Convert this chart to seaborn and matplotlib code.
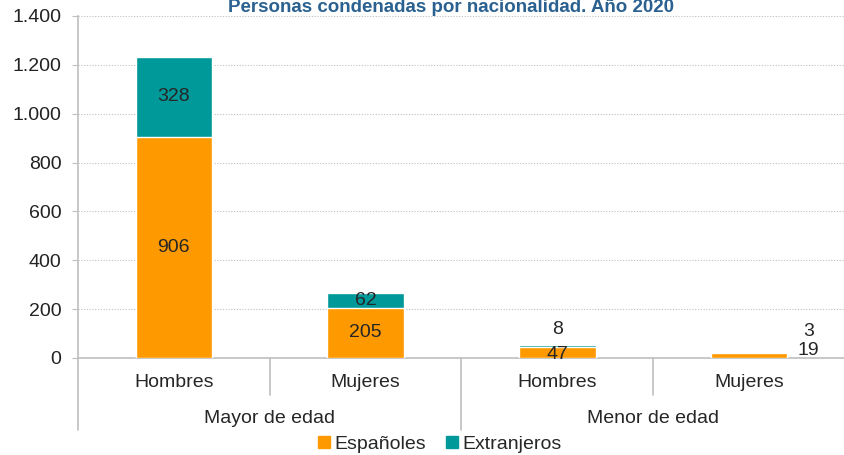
import numpy as np
import pandas as pd
import matplotlib.pyplot as plt
import matplotlib.transforms as mtransforms
from matplotlib.patches import Patch
import seaborn as sns

# data
subgroups = ['Hombres', 'Mujeres', 'Hombres ', 'Mujeres ']
groups = ['Mayor de edad', 'Menor de edad']
espanoles = [906, 205, 47, 19]
extranjeros = [328, 62, 8, 3]
yticks = [0, 200, 400, 600, 800, 1000, 1200, 1400]
ytick_labels = ['0', '200', '400', '600', '800', '1.000', '1.200', '1.400']

ORANGE = '#FF9900'
TEAL = '#009999'
GRID = '#BFBFBF'
FS = 14

sns.set_style('white')
plt.rcParams['font.family'] = ['Liberation Sans', 'DejaVu Sans']

df = pd.DataFrame({'cat': subgroups, 'esp': espanoles, 'ext': extranjeros})
df['total'] = df['esp'] + df['ext']

fig = plt.figure(figsize=(8.45, 4.55), dpi=100)
ax = fig.add_axes([78 / 845, 1 - 358 / 455, 1 - 78 / 845, 342 / 455])

sns.barplot(data=df, x='cat', y='total', color=TEAL, width=0.4,
            saturation=1, ax=ax, zorder=3)
sns.barplot(data=df, x='cat', y='esp', color=ORANGE, width=0.4,
            saturation=1, ax=ax, zorder=3)

ax.set_xlim(-0.5, 3.5)
ax.set_ylim(0, 1400)
ax.set_yticks(yticks)
ax.set_yticklabels(ytick_labels, fontsize=14, color='#222222')
ax.set_xticks([])
ax.set_xlabel('')
ax.set_ylabel('')
ax.yaxis.grid(True, linestyle=(0, (1, 1.5)), color=GRID, linewidth=0.8, zorder=0)
ax.set_axisbelow(True)
ax.tick_params(axis='y', length=4, color=GRID, pad=8, left=True)
for s in ['top', 'right']:
    ax.spines[s].set_visible(False)
for s in ['left', 'bottom']:
    ax.spines[s].set_color(GRID)
    ax.spines[s].set_linewidth(1.2)

# value labels
for i, row in df.iterrows():
    if row['total'] > 150:
        ax.text(i, row['esp'] / 2, f"{row['esp']}", ha='center', va='center', fontsize=14)
        ax.text(i, row['esp'] + row['ext'] / 2, f"{row['ext']}", ha='center', va='center', fontsize=14)
    elif i == 2:
        ax.text(i, row['esp'] / 2 - 8, f"{row['esp']}", ha='center', va='center', fontsize=14)
        ax.text(i, row['total'] + 60, f"{row['ext']}", ha='center', va='center', fontsize=14)
    else:
        ax.text(i + 0.31, row['esp'] / 2 + 23, f"{row['esp']}", ha='center', va='center', fontsize=14)
        ax.text(i + 0.31, row['total'] + 88, f"{row['ext']}", ha='center', va='center', fontsize=14)

# multi-level category axis
trans = mtransforms.blended_transform_factory(ax.transData, ax.transAxes)
for x, depth in [(-0.5, -0.21), (0.5, -0.108), (1.5, -0.21), (2.5, -0.108), (3.5, -0.21)]:
    ax.plot([x, x], [0, depth], transform=trans, color=GRID, lw=1.2, clip_on=False)
for i, lab in enumerate(subgroups):
    ax.text(i, -0.072, lab.strip(), transform=trans, ha='center', va='center', fontsize=FS)
for j, lab in enumerate(groups):
    ax.text(2 * j + 0.5, -0.178, lab, transform=trans, ha='center', va='center', fontsize=FS)

handles = [Patch(color=ORANGE, label='Españoles'), Patch(color=TEAL, label='Extranjeros')]
ax.legend(handles=handles, loc='center', bbox_to_anchor=(0.472, -0.252), ncol=2,
          frameon=False, fontsize=FS, handlelength=0.6, handleheight=0.6,
          handletextpad=0.25, columnspacing=1.0, borderpad=0)

fig.text(0.534, 1 - 12 / 455, 'Personas condenadas por nacionalidad. Año 2020', ha='center',
         va='baseline', fontsize=13.5, fontweight='bold', color='#2A6190')

fig.savefig('out.png', dpi=100)
